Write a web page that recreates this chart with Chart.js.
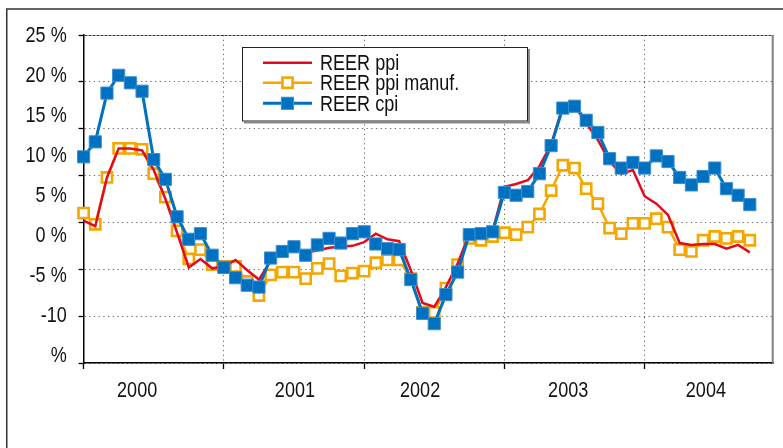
<!DOCTYPE html>
<html>
<head>
<meta charset="utf-8">
<script src="https://cdn.jsdelivr.net/npm/chart.js@4.4.1/dist/chart.umd.min.js"></script>
<style>
html,body{margin:0;padding:0;background:#fff;}
canvas{display:block;}
</style>
</head>
<body>
<canvas id="c" width="783" height="448"></canvas>
<script>
// ---------- data ----------
const years = ['2000', '2001', '2002', '2003', '2004'];
const yTickValues = [25, 20, 15, 10, 5, 0, -5, -10, -15];
const yTickLabels = ['25 %', '20 %', '15 %', '10 %', '5 %', '0 %', '-5 %', '-10', '%'];
const seriesNames = ['REER ppi', 'REER ppi manuf.', 'REER cpi'];

const reerPpi = [
  5.2, 4.6, 9.8, 12.9, 12.9, 12.7, 10.6, 7.5, 3.9, 0.2, 1.1, 0.1,
  0.3, 1.0, -0.1, -1.1, 0.9, 1.8, 2.2, 1.8, 2.0, 2.3, 2.4, 2.5,
  2.9, 3.8, 3.2, 3.0, -0.1, -3.6, -4.0, -1.9, 0.6, 3.8, 3.8, 4.1,
  8.8, 9.1, 9.5, 11.0, 13.3, 17.4, 17.5, 15.6, 13.8, 11.5, 10.2, 10.6,
  7.8, 7.0, 5.8, 2.8, 2.6, 2.7, 2.7, 2.2, 2.6, 1.8
];
const reerPpiManuf = [
  6.0, 4.8, 9.8, 12.9, 12.9, 12.8, 10.2, 7.7, 4.1, 1.1, 2.1, 0.5,
  0.3, 0.3, -1.3, -2.8, -0.6, -0.3, -0.3, -1.0, 0.1, 0.6, -0.7, -0.4,
  -0.2, 0.7, 1.0, 1.0, -1.0, -4.6, -4.6, -2.0, 0.5, 3.3, 3.1, 3.5,
  3.9, 3.7, 4.5, 5.9, 8.4, 11.1, 10.8, 8.6, 7.0, 4.4, 3.8, 4.9,
  4.9, 5.4, 4.5, 2.1, 1.9, 3.1, 3.5, 3.3, 3.5, 3.1
];
const reerCpi = [
  12.0, 13.6, 18.8, 20.7, 19.9, 19.0, 11.7, 9.6, 5.6, 3.2, 3.8, 1.5,
  0.2, -0.9, -1.7, -1.9, 1.2, 1.9, 2.4, 1.5, 2.6, 3.3, 2.8, 3.8,
  4.0, 2.7, 2.2, 2.1, -1.1, -4.7, -5.8, -2.7, -0.3, 3.7, 3.8, 4.0,
  8.2, 7.9, 8.3, 10.2, 13.2, 17.2, 17.4, 15.9, 14.6, 11.8, 10.8, 11.4,
  10.8, 12.1, 11.5, 9.8, 9.0, 9.9, 10.8, 8.6, 7.9, 6.9
];

const months = [];
years.forEach(y => { for (let m = 1; m <= 12; m++) months.push(y + '-' + String(m).padStart(2, '0')); });

// ---------- styling ----------
const FONT = "'Liberation Sans', Arial, sans-serif";
const NARROW = 0.82;           // horizontal squeeze to mimic a narrow face
const TEXT = '#111111';
const RED = '#E30A1E';
const ORANGE = '#F3A700';
const BLUE = '#0070C0';
const GRID = '#6a6a6a';
const DOTS = [1.3, 3.4];
const yearLabelAt = [4.58, 18.08, 28.79, 41.46, 53.24];

const narrowTicksPlugin = {
  id: 'narrowTicks',
  beforeDraw(chart) {
    const ctx = chart.ctx;
    Object.values(chart.scales).forEach(sc => {
      if (!sc.options.ticks.display) return;
      const items = sc.getLabelItems();
      items.forEach(it => {
        ctx.save();
        ctx.font = it.font.string;
        const w = ctx.measureText(String(it.label)).width;
        ctx.restore();
        it.options.maxWidth = w * NARROW;
      });
    });
  }
};

const framePlugin = {
  id: 'frame',
  beforeDraw(chart) {
    const ctx = chart.ctx;
    ctx.save();
    ctx.fillStyle = '#ffffff';
    ctx.fillRect(0, 0, chart.width, chart.height);
    ctx.strokeStyle = '#333333';
    ctx.lineWidth = 1.5;
    ctx.beginPath();
    ctx.moveTo(6.75, chart.height);
    ctx.lineTo(6.75, 9);
    ctx.lineTo(chart.width, 9);
    ctx.stroke();
    ctx.restore();
  },
  beforeDatasetsDraw(chart) {
    const ctx = chart.ctx, a = chart.chartArea;
    ctx.save();
    ctx.strokeStyle = '#808080';
    ctx.lineWidth = 2;
    ctx.beginPath();
    ctx.moveTo(a.right - 0.5, a.top);
    ctx.lineTo(a.right - 0.5, a.bottom);
    ctx.stroke();
    ctx.restore();
  }
};

const legendPlugin = {
  id: 'boxLegend',
  afterDatasetsDraw(chart) {
    const ctx = chart.ctx;
    const L = 242, T = 47, R = 528, B = 121.5;
    ctx.save();
    ctx.fillStyle = '#8a8a8a';
    ctx.fillRect(L + 2, B, R - L, 2);
    ctx.fillRect(R, T + 2, 2, B - T);
    ctx.fillStyle = '#ffffff';
    ctx.fillRect(L, T, R - L, B - T);
    ctx.strokeStyle = '#222222';
    ctx.lineWidth = 1;
    ctx.strokeRect(L + 0.5, T + 0.5, R - L - 1, B - T - 1);
    const rows = [62.7, 82.7, 103.3];
    chart.data.datasets.forEach((ds, i) => {
      const y = rows[i];
      ctx.strokeStyle = ds.borderColor;
      ctx.lineWidth = ds.borderWidth;
      ctx.beginPath();
      ctx.moveTo(263, y);
      ctx.lineTo(312, y);
      ctx.stroke();
      if (ds.pointRadius > 0) {
        const s = ds.pointRadius * Math.SQRT1_2;
        ctx.fillStyle = ds.pointBackgroundColor;
        ctx.fillRect(287.5 - s, y - s, 2 * s, 2 * s);
        ctx.strokeStyle = ds.pointBorderColor;
        ctx.lineWidth = ds.pointBorderWidth;
        ctx.strokeRect(287.5 - s, y - s, 2 * s, 2 * s);
      }
      ctx.fillStyle = TEXT;
      ctx.font = '22px ' + FONT;
      ctx.textAlign = 'left';
      ctx.textBaseline = 'alphabetic';
      const w = ctx.measureText(ds.label).width;
      ctx.fillText(ds.label, 320, y + 7.6, w * NARROW);
    });
    ctx.restore();
  }
};

new Chart(document.getElementById('c'), {
  type: 'line',
  data: {
    labels: months,
    datasets: [
      {
        label: seriesNames[0], data: reerPpi, xAxisID: 'x', yAxisID: 'y',
        borderColor: RED, backgroundColor: RED, borderWidth: 2.5,
        pointRadius: 0, pointHoverRadius: 0, order: 1, tension: 0, fill: false, clip: false
      },
      {
        label: seriesNames[1], data: reerPpiManuf, xAxisID: 'x', yAxisID: 'y',
        borderColor: ORANGE, backgroundColor: '#ffffff', borderWidth: 2.5,
        pointStyle: 'rect', pointRadius: 7.2, pointHoverRadius: 7.2,
        pointBackgroundColor: '#ffffff', pointBorderColor: ORANGE, pointBorderWidth: 2.6,
        order: 2, tension: 0, fill: false, clip: false
      },
      {
        label: seriesNames[2], data: reerCpi, xAxisID: 'x', yAxisID: 'y',
        borderColor: BLUE, backgroundColor: BLUE, borderWidth: 3,
        pointStyle: 'rect', pointRadius: 8.6, pointHoverRadius: 8.6,
        pointBackgroundColor: BLUE, pointBorderColor: '#3d8fd1', pointBorderWidth: 1,
        order: 0, tension: 0, fill: false, clip: false
      }
    ]
  },
  options: {
    responsive: false,
    animation: false,
    devicePixelRatio: 1,
    layout: { padding: { top: 35, right: 0.8, left: 0, bottom: 0 } },
    plugins: { legend: { display: false }, tooltip: { enabled: false } },
    scales: {
      x: {
        type: 'category', position: 'bottom', weight: 0, offset: false,
        grid: { display: true, drawOnChartArea: true, drawTicks: true, tickLength: 6,
                color: GRID, lineWidth: 1, tickColor: '#000', tickWidth: 1.3 },
        border: { display: true, color: '#000', width: 1.5, dash: DOTS },
        ticks: { display: false },
        afterBuildTicks: ax => { ax.ticks = ax.ticks.filter(t => t.value % 12 === 0); },
        afterFit: ax => { ax.height = 8; }
      },
      x2: {
        type: 'linear', position: 'bottom', weight: 1, min: 0, max: 59,
        grid: { display: false, drawTicks: false }, border: { display: false },
        afterBuildTicks: ax => { ax.ticks = yearLabelAt.map(v => ({ value: v })); },
        ticks: { font: { family: FONT, size: 22, lineHeight: 1.2 }, color: TEXT, padding: 6.8,
                 maxRotation: 0, autoSkip: false, callback: (v, i) => years[i] },
        afterFit: ax => { ax.height = 77; }
      },
      y: {
        type: 'linear', position: 'left', weight: 0, min: -10, max: 25,
        grid: { display: true, lineWidth: 1, tickLength: 5, tickColor: '#000', tickWidth: 1.3,
                color: c => (c.tick && c.tick.value === 25) ? '#333333' : GRID },
        border: { display: true, color: '#000', width: 1.5,
                  dash: c => (c.tick && c.tick.value === 25) ? [3, 1] : DOTS },
        ticks: { display: false, stepSize: 5 },
        afterFit: ax => { ax.width = 6; }
      },
      yl: {
        type: 'linear', position: 'left', weight: 1, min: -15.9, max: 25.1,
        grid: { display: false, drawTicks: false }, border: { display: false },
        afterBuildTicks: ax => { ax.ticks = yTickValues.map(v => ({ value: v })); },
        ticks: { font: { family: FONT, size: 22, lineHeight: 1.2 }, color: TEXT, padding: 10.9,
                 autoSkip: false, callback: (v, i) => yTickLabels[i] },
        afterFit: ax => { ax.width = 77.6; }
      }
    }
  },
  plugins: [framePlugin, narrowTicksPlugin, legendPlugin]
});
</script>
</body>
</html>
